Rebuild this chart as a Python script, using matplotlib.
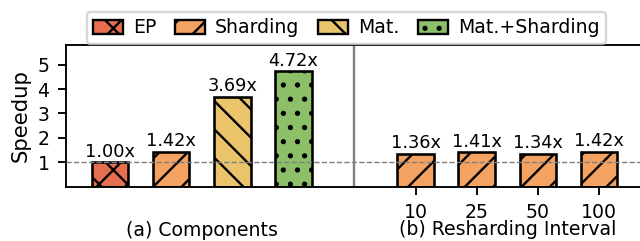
import matplotlib
matplotlib.use("Agg")
import matplotlib.pyplot as plt
from matplotlib.patches import Patch
from matplotlib.transforms import blended_transform_factory

# (a) components
comp_names = ["EP", "Sharding", "Mat.", "Mat.+Sharding"]
comp_speedup = [1.00, 1.42, 3.69, 4.72]
comp_colors = ["#e76f51", "#f4a261", "#e9c46a", "#8cbf68"]
comp_hatches = ["xx", "//", "\\\\", ".."]

# (b) resharding interval
intervals = ["10", "25", "50", "100"]
interval_speedup = [1.36, 1.41, 1.34, 1.42]

DPI = 170
plt.rcParams["hatch.linewidth"] = 1.0

fig = plt.figure(figsize=(640 / DPI, 241 / DPI), dpi=DPI)
ax = fig.add_axes([0.103, 0.225, 0.897, 0.588])

w = 0.6
xa = list(range(len(comp_speedup)))
xb = [len(comp_speedup) + 1 + i for i in range(len(interval_speedup))]

for x, v, c, h in zip(xa, comp_speedup, comp_colors, comp_hatches):
    ax.bar(x, v, w, color=c, hatch=h, edgecolor="black", linewidth=1.1, zorder=2)
    ax.text(x, v + 0.07, f"{v:.2f}x", ha="center", va="bottom", fontsize=7.5)

for x, v in zip(xb, interval_speedup):
    ax.bar(x, v, w, color=comp_colors[1], hatch="//", edgecolor="black", linewidth=1.1, zorder=2)
    ax.text(x, v + 0.07, f"{v:.2f}x", ha="center", va="bottom", fontsize=7.5)

# separator + baseline
ax.axvline(len(comp_speedup), color="gray", lw=1.0, zorder=1)
ax.axhline(1.0, color="gray", ls="--", lw=0.6, zorder=3)

ax.set_xlim(-0.72, 8.67)
ax.set_ylim(0, 5.8)
ax.set_yticks([1, 2, 3, 4, 5])
ax.set_xticks(xb)
ax.set_xticklabels(intervals)
ax.tick_params(labelsize=8)
ax.set_ylabel("Speedup", fontsize=9, labelpad=3)
ax.spines["right"].set_visible(False)

tr = blended_transform_factory(ax.transData, ax.transAxes)
ax.text(sum(xa) / len(xa), -0.31, "(a) Components", transform=tr,
        ha="center", va="center", fontsize=8)
ax.text(sum(xb) / len(xb), -0.305, "(b) Resharding Interval", transform=tr,
        ha="center", va="center", fontsize=8)

handles = [Patch(facecolor=c, edgecolor="black", hatch=h, linewidth=1.0)
           for c, h in zip(comp_colors, comp_hatches)]
fig.legend(handles, comp_names, loc="upper center", bbox_to_anchor=(0.541, 0.99),
           ncol=4, fontsize=8, handlelength=1.6, handleheight=0.75,
           columnspacing=1.0, handletextpad=0.5, borderpad=0.35)

fig.savefig("out.png", dpi=DPI)
